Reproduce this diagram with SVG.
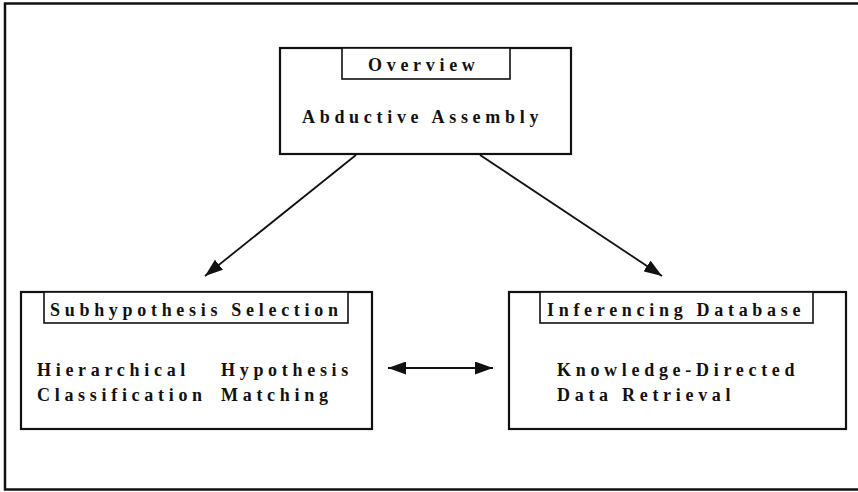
<svg xmlns="http://www.w3.org/2000/svg" width="858" height="492" viewBox="0 0 858 492">
  <style>
    .frame { fill: none; stroke: #111; stroke-width: 2.5; }
    .box { fill: #fff; stroke: #111; stroke-width: 2.2; }
    .tab { fill: #fff; stroke: #111; stroke-width: 1.6; }
    .lbl { font-family: "Liberation Serif", "Times New Roman", serif; font-weight: bold; font-size: 18px; letter-spacing: 4.7px; fill: #111; }
    .edge { stroke: #111; stroke-width: 1.8; fill: none; }
  </style>
  <defs>
    <marker id="head" viewBox="0 0 18 13" refX="18" refY="6.5" markerWidth="18" markerHeight="13" markerUnits="userSpaceOnUse" orient="auto-start-reverse">
      <path d="M0,0 L18,6.5 L0,13 Z" fill="#111"/>
    </marker>
  </defs>

  <!-- outer frame: top, left and bottom rules -->
  <path class="frame" d="M858,3.5 L5,3.5 L5,489.5 L858,489.5"/>

  <!-- connectors -->
  <g id="connectors">
    <line class="edge" x1="356" y1="155" x2="205" y2="276" marker-end="url(#head)"/>
    <line class="edge" x1="480" y1="155" x2="662" y2="276" marker-end="url(#head)"/>
    <line class="edge" x1="388" y1="368" x2="493" y2="368" marker-start="url(#head)" marker-end="url(#head)"/>
  </g>

  <!-- top node -->
  <g id="overview">
    <rect class="box" x="280" y="48" width="291" height="106"/>
    <rect class="tab" x="342" y="48" width="168" height="31"/>
    <text class="lbl" x="368" y="71">Overview</text>
    <text class="lbl" x="302" y="123">Abductive Assembly</text>
  </g>

  <!-- left node -->
  <g id="subhypothesis-selection">
    <rect class="box" x="21" y="292" width="351" height="137"/>
    <rect class="tab" x="44" y="292" width="304" height="31"/>
    <text class="lbl" x="50" y="316">Subhypothesis Selection</text>
    <text class="lbl" x="37" y="376">Hierarchical</text>
    <text class="lbl" x="37" y="401">Classification</text>
    <text class="lbl" x="221" y="376">Hypothesis</text>
    <text class="lbl" x="221" y="401">Matching</text>
  </g>

  <!-- right node -->
  <g id="inferencing-database">
    <rect class="box" x="509" y="292" width="337" height="137"/>
    <rect class="tab" x="540" y="292" width="273" height="31"/>
    <text class="lbl" x="547" y="316">Inferencing Database</text>
    <text class="lbl" x="557" y="376">Knowledge-Directed</text>
    <text class="lbl" x="557" y="401">Data Retrieval</text>
  </g>
</svg>
